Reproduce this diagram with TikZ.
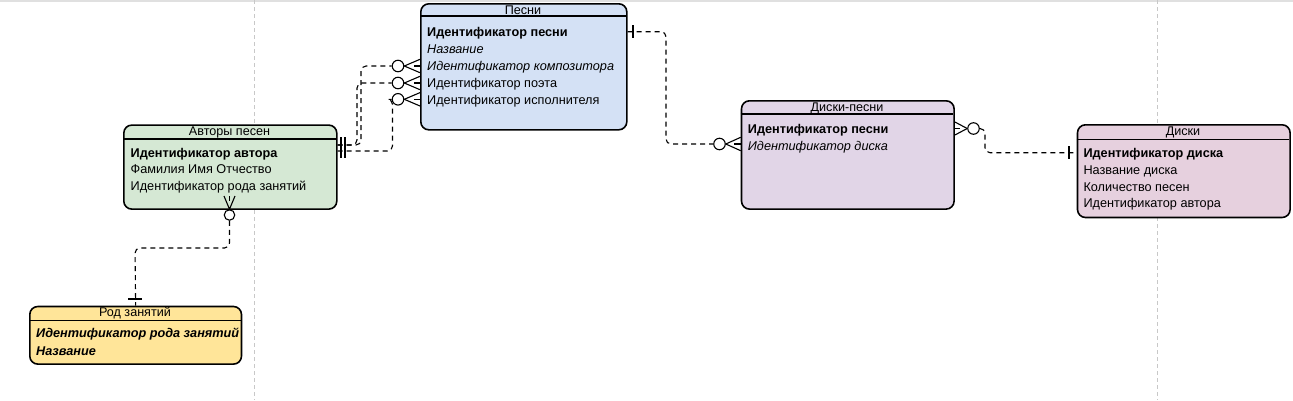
\documentclass[tikz,border=0pt]{standalone}
\usepackage{fontspec}
\setmainfont{Liberation Sans}
\definecolor{songfill}{HTML}{D4E1F5}
\definecolor{authfill}{HTML}{D5E8D4}
\definecolor{dsfill}{HTML}{E1D5E7}
\definecolor{discfill}{HTML}{E6D0DE}
\definecolor{occfill}{HTML}{FFE599}
\definecolor{gridgray}{HTML}{C8C8C8}
\begin{document}
\begin{tikzpicture}[x=1pt,y=-1pt,
  ent/.style={draw=black, line width=1.6pt, rounded corners=8pt, inner sep=0pt, anchor=north west},
  hdr/.style={draw=black, line width=1.5pt},
  ttl/.style={font=\fontsize{12.6}{14}\selectfont, inner sep=0pt, anchor=base},
  attr/.style={font=\fontsize{12.7}{14}\selectfont, anchor=base west, inner sep=0pt},
  conn/.style={draw=black, line width=1.1pt, dash pattern=on 5pt off 4pt, rounded corners=5pt},
  tipline/.style={draw=black, line width=1.1pt},
  circ/.style={circle, draw=black, line width=1.1pt, fill=white, minimum size=11.5pt, inner sep=0pt},
  gridline/.style={draw=gridgray, line width=1pt, dash pattern=on 4pt off 3pt}]

\fill[white] (0,0) rectangle (1293,400);
\useasboundingbox (0,0) rectangle (1293,400);
\fill[black!12] (0,0) rectangle (1293,1.5);
\draw[gridline] (254.5,0) -- (254.5,400);
\draw[gridline] (1157.5,0) -- (1157.5,400);

% ---------- entities ----------
\node[ent, fill=songfill, minimum width=206pt, minimum height=126pt] (songs) at (420,3) {};
\draw[hdr] (420,16) -- (626,16);
\node[ttl] (songsT) at (523,14) {Песни};
\node[attr] (s1) at (427,36.2) {\bfseries Идентификатор песни};
\node[attr] (s2) at (427,53.2) {\itshape Название};
\node[attr] (s3) at (427,70.2) {\itshape Идентификатор композитора};
\node[attr] (s4) at (427,87.2) {Идентификатор поэта};
\node[attr] (s5) at (427,104.2) {Идентификатор исполнителя};

\node[ent, fill=authfill, minimum width=213pt, minimum height=84pt] (authors) at (123,124.3) {};
\draw[hdr] (123,139) -- (336,139);
\node[ttl] (authorsT) at (229.5,135.2) {Авторы песен};
\node[attr] (a1) at (130.5,157.2) {\bfseries Идентификатор автора};
\node[attr] (a2) at (130.5,173.8) {Фамилия Имя Отчество};
\node[attr] (a3) at (130.5,190.5) {Идентификатор рода занятий};

\node[ent, fill=dsfill, minimum width=212.6pt, minimum height=108.3pt] (dsongs) at (740.7,100) {};
\draw[hdr] (740.7,114) -- (953.3,114);
\node[ttl] (dsongsT) at (847,111.2) {Диски-песни};
\node[attr] (d1) at (747.7,133.5) {\bfseries Идентификатор песни};
\node[attr] (d2) at (747.7,150.2) {\itshape Идентификатор диска};

\node[ent, fill=discfill, minimum width=212.6pt, minimum height=92.7pt] (discs) at (1076.7,124) {};
\draw[hdr] (1076.7,139.3) -- (1289.3,139.3);
\node[ttl] (discsT) at (1183,135.2) {Диски};
\node[attr] (k1) at (1083.3,157.2) {\bfseries Идентификатор диска};
\node[attr] (k2) at (1083.3,174.5) {Название диска};
\node[attr] (k3) at (1083.3,191.2) {Количество песен};
\node[attr] (k4) at (1083.3,207.8) {Идентификатор автора};

\node[ent, fill=occfill, minimum width=211.7pt, minimum height=57.6pt] (occ) at (29,305.7) {};
\draw[hdr] (29,320.7) -- (240.7,320.7);
\node[ttl] (occT) at (135,316.8) {Род занятий};
\node[attr] (o1t) at (36,337.8) {\bfseries\itshape Идентификатор рода занятий};
\node[attr] (o2t) at (36,355.5) {\bfseries\itshape Название};

% ---------- Авторы -> Песни ----------
\node[circ] (c1) at (398,66) {};
\node[circ] (c2) at (398,83) {};
\node[circ] (c3) at (398,99.3) {};
\draw[conn] (authors.east |- 0,145) -- (361,145) -- (361,66) -- (c1.west);
\draw[conn] (authors.east |- 0,145) -- (357,145) -- (357,83) -- (c2.west);
\draw[conn] (authors.east |- 0,151) -- (392.5,151) -- (392.5,99.3) -- (c3.west);
\foreach \c/\yy in {c1/66,c2/83,c3/99.3}{
  \draw[tipline] (\c.east) -- (songs.west |- 0,\yy-6.7);
  \draw[tipline] (\c.east) -- (songs.west |- 0,\yy+6.7);
  \draw[tipline] (414,\yy) -- (songs.west |- 0,\yy);
}
\draw[tipline] (341,137) -- (341,158);
\draw[tipline] (345,137) -- (345,158);

% ---------- Песни -> Диски-песни ----------
\node[circ] (c4) at (719.5,144) {};
\draw[conn] (songs.east |- 0,31.7) -- (666,31.7) -- (666,144) -- (c4.west);
\draw[tipline] (633,25) -- (633,38);
\draw[tipline] (c4.east) -- (dsongs.west |- 0,137.3);
\draw[tipline] (c4.east) -- (dsongs.west |- 0,150.7);
\draw[tipline] (734,144) -- (dsongs.west |- 0,144);

% ---------- Диски-песни -> Диски ----------
\node[circ] (c5) at (973.5,128.5) {};
\draw[tipline] (dsongs.east |- 0,122) -- (c5.west);
\draw[tipline] (dsongs.east |- 0,135) -- (c5.west);
\draw[tipline] (dsongs.east |- 0,128.5) -- (960,128.5);
\draw[conn] (c5.east) -- (985,128.5) -- (985,152.7) -- (discs.west |- 0,152.7);
\draw[tipline] (1069,146) -- (1069,159);

% ---------- Авторы -> Род занятий ----------
\node[circ, minimum size=10.5pt] (c6) at (229.5,215) {};
\draw[tipline] (224,196) -- (c6.north) -- (235,196);
\draw[tipline] (229.5,196) -- (229.5,201);
\draw[conn] (c6.south) -- (229.5,248) -- (135,248) -- (occ.north);
\draw[tipline] (128,299) -- (142,299);
\end{tikzpicture}
\end{document}
